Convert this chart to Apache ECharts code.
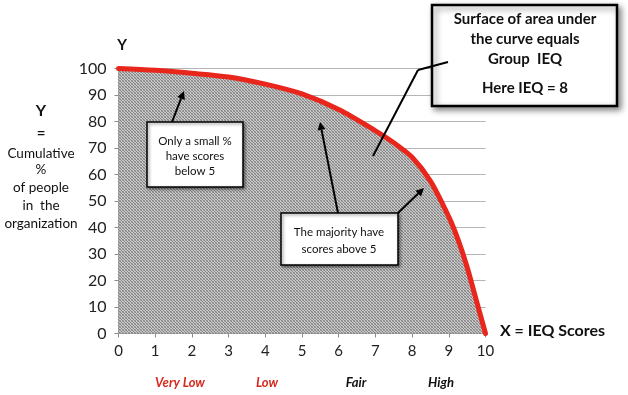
<!DOCTYPE html>
<html>
<head>
<meta charset="utf-8">
<script src="https://cdn.jsdelivr.net/npm/echarts@6/dist/echarts.min.js"></script>
<style>
html,body{margin:0;padding:0;background:#fff;}
#c{width:628px;height:395px;}
</style>
</head>
<body>
<div id="c"></div>
<script>
// ---- data ----
var ieqScores = [0, 1, 2, 3, 4, 5, 6, 7, 7.5, 8, 8.5, 9, 9.25, 9.5, 9.75, 10];
var cumulativePct = [100, 99.3, 98.2, 96.8, 94.1, 90.4, 84.5, 76.5, 72, 66.5, 57.5, 44, 35.5, 25, 12.5, 0];
var xTicks = ['0','1','2','3','4','5','6','7','8','9','10'];
var bandLabels = ['Very Low', 'Low', 'Fair', 'High'];
var bandColors = ['#d42a1f', '#d42a1f', '#111', '#111'];
var leftTitleLines = ['Cumulative', '%', 'of people', 'in  the', 'organization'];
var bigBoxLines = ['Surface of area under', 'the curve equals', 'Group  IEQ', 'Here IEQ = 8'];
var smallBoxLines = ['Only a small %', 'have scores', 'below 5'];
var majorityBoxLines = ['The majority have', 'scores above 5'];

var FONT = 'Lato, "Open Sans", sans-serif';

// dotted pattern for the area
var pc = document.createElement('canvas');
pc.width = 3; pc.height = 3;
var pctx = pc.getContext('2d');
pctx.fillStyle = '#c8c8c8'; pctx.fillRect(0,0,3,3);
pctx.fillStyle = '#858585';
pctx.fillRect(0,0,1,1); pctx.fillRect(1,1,1,1); pctx.fillRect(2,2,1,1);
pctx.fillStyle = '#a4a4a4';
pctx.fillRect(2,0,1,1); pctx.fillRect(0,2,1,1);

var chart = echarts.init(document.getElementById('c'), null, {renderer:'canvas'});

function txt(x, y, s, opt) {
  opt = opt || {};
  return {
    type: 'text', x: x, y: y, z: 20,
    style: {
      text: s, fill: opt.color || '#111',
      font: (opt.style || '') + ' ' + (opt.weight || 'normal') + ' ' + (opt.size || 13) + 'px ' + FONT,
      textAlign: opt.align || 'center', textVerticalAlign: 'middle'
    }
  };
}
function arrow(x1, y1, x2, y2, head) {
  var els = [];
  var ang = Math.atan2(y2 - y1, x2 - x1);
  var h = head ? 8 : 0, w = 4;
  var bx = x2 - h * Math.cos(ang), by = y2 - h * Math.sin(ang);
  els.push({type:'line', z: 20, shape:{x1:x1,y1:y1,x2: head ? bx : x2, y2: head ? by : y2}, style:{stroke:'#000', lineWidth:2}});
  if (head) {
    els.push({type:'polygon', z: 20, shape:{points:[[x2,y2],[bx + w*Math.sin(ang), by - w*Math.cos(ang)],[bx - w*Math.sin(ang), by + w*Math.cos(ang)]]}, style:{fill:'#000'}});
  }
  return els;
}
function box(x, y, w, h, lw, shadow) {
  return {type:'rect', z: 19, shape:{x:x,y:y,width:w,height:h},
    style:{fill:'#fff', stroke:'#000', lineWidth:lw, shadowBlur: shadow, shadowColor:'rgba(0,0,0,0.45)', shadowOffsetX: shadow/2, shadowOffsetY: shadow/2}};
}

var graphics = [];
// Y title at top
graphics.push(txt(122, 45, 'Y', {weight:'bold', size:15}));
// left title
graphics.push(txt(41, 111, 'Y', {weight:'bold', size:16}));
graphics.push(txt(41, 133, '=', {weight:'bold', size:15}));
var leftY = [154, 170, 188, 206, 224];
leftTitleLines.forEach(function(s, i){ graphics.push(txt(41, leftY[i], s, {size:13.5})); });
// x axis title
graphics.push(txt(500, 331, 'X = IEQ Scores', {weight:'bold', size:16, align:'left'}));
// band labels
var bandX = [180, 267, 356, 441];
bandLabels.forEach(function(s, i){ graphics.push(txt(bandX[i], 383, s, {weight:'bold', style:'italic', size:13, color: bandColors[i]})); });

// big box
graphics.push(box(432, 5, 185, 101, 2.5, 6));
var bigY = [19, 39, 59, 88];
bigBoxLines.forEach(function(s, i){ graphics.push(txt(525, bigY[i], s, {weight:'bold', size:15})); });
graphics = graphics.concat(arrow(448, 62, 418, 70, false));
graphics = graphics.concat(arrow(418, 70, 373, 156, false));

// small box
graphics.push(box(147, 122, 96, 65, 1.5, 3));
var smY = [141, 156, 171];
smallBoxLines.forEach(function(s, i){ graphics.push(txt(195, smY[i], s, {size:11.5})); });
graphics = graphics.concat(arrow(172, 122, 184, 91, true));

// majority box
graphics.push(box(281, 213, 117, 52, 1.5, 3));
var mjY = [232, 249];
majorityBoxLines.forEach(function(s, i){ graphics.push(txt(339, mjY[i], s, {size:11.5})); });
graphics = graphics.concat(arrow(338, 213, 320, 122, true));
graphics = graphics.concat(arrow(398, 213, 424, 188, true));

var option = {
  backgroundColor: '#fff',
  animation: false,
  grid: {left: 118.5, right: 142.5, top: 68.5, bottom: 61.5, containLabel: false},
  xAxis: {
    type: 'value', min: 0, max: 10, interval: 1,
    axisLine: {show: true, onZero: false, lineStyle: {color: '#8a8a8a', width: 1}},
    axisTick: {show: true, length: 4, lineStyle: {color: '#8a8a8a'}},
    axisLabel: {color: '#222', fontSize: 15, fontFamily: FONT, margin: 10,
      formatter: function(v){ return xTicks[Math.round(v)]; }},
    splitLine: {show: false}
  },
  yAxis: {
    type: 'value', min: 0, max: 100, interval: 10,
    axisLine: {show: true, lineStyle: {color: '#8a8a8a', width: 1}},
    axisTick: {show: true, length: 4, lineStyle: {color: '#8a8a8a'}},
    axisLabel: {color: '#222', fontSize: 16, fontFamily: FONT, margin: 12},
    splitLine: {show: true, lineStyle: {color: '#b5b5b5', width: 1}}
  },
  series: [{
    type: 'line',
    data: ieqScores.map(function(x, i){ return [x, cumulativePct[i]]; }),
    smooth: 0.3,
    showSymbol: false,
    lineStyle: {color: '#e8261c', width: 5, cap: 'round'},
    areaStyle: {color: {image: pc, repeat: 'repeat'}, opacity: 1, origin: 'start'},
    z: 5
  }],
  graphic: graphics
};
chart.setOption(option);
</script>
</body>
</html>
